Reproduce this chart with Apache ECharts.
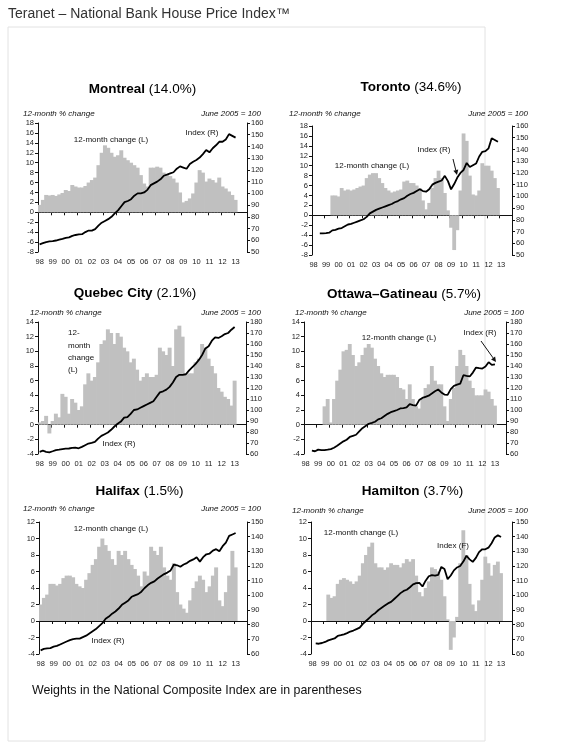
<!DOCTYPE html>
<html><head><meta charset="utf-8">
<script src="https://cdn.jsdelivr.net/npm/echarts@6/dist/echarts.min.js"></script>
<style>html,body{margin:0;padding:0;background:#fff;}#c{width:579px;height:743px;}</style>
</head><body><div id="c"></div>
<script>
// ---- tick labels / categories (quarters 1998Q1 .. 2013Q4) ----
const yearLabels = ['98','99','00','01','02','03','04','05','06','07','08','09','10','11','12','13'];
const quarters = [];
yearLabels.forEach(function (y) { for (let q = 1; q <= 4; q++) quarters.push(y + 'Q' + q); });

// ---- Montreal ----
const montrealChange = [1.5,2.5,3.5,3.4, 3.5,3.3,3.6,3.9, 4.5,4.3,5.5,5.2, 5.0,5.0,5.3,6.0, 6.5,7.0,9.5,12.0,
  13.5,13.0,12.0,11.2, 11.5,12.5,11.0,10.5, 10.0,9.5,9.0,7.5, 5.8,5.2,9.0,9.0, 9.2,9.0,8.0,7.5,
  7.3,6.8,6.0,4.0, 2.0,2.3,2.8,3.8, 6.0,8.5,8.0,6.2, 6.8,6.5,6.0,7.0, 5.2,4.8,4.2,3.5, 2.5];
const montrealIndex = [56.5,57.5,58.5,59, 59.3,59.8,60.5,61.2, 62,62.5,63.8,64.5, 65,65.2,67,68.3, 68.2,69.5,72.5,75,
  76.5,78,80,83, 85.5,89,92.5,93.5, 95,98,100,100, 100.8,103,107,108.5, 110,112,115,116,
  117,118,121,123, 122,121,125,127, 128.5,130.5,133.5,137, 135,138.5,141,144, 144,146,150.5,149, 147.5];

// ---- Toronto ----
const torontoChange = [null,null,null,null, null,null,4.0,4.0, 3.8,5.5,5.0,5.2, 5.0,5.2,5.5,5.8, 6.0,7.5,8.2,8.5,
  8.5,7.5,6.5,5.5, 5.0,4.6,4.8,5.0, 5.2,6.8,7.0,6.5, 6.5,6.0,5.5,3.0, 1.2,2.5,5.5,7.5,
  9.0,7.5,4.5,1.0, -2.5,-7.0,-3.0,5.0, 16.5,15.0,8.0,4.2, 4.0,5.0,10.5,10.0, 10.0,9.0,7.5,5.5, null];
const torontoIndex = [null,null,68.5,68.5, 68.7,69,71,71.5, 72.5,73,74.5,76, 76.5,77.5,78.5,79.5, 80.5,82.5,85.5,87,
  88.5,89.5,90.5,91.5, 92.5,93.5,95,96, 97.5,98.5,100.5,102, 103,104.5,106,104.5, 104,106,110,111.5,
  112.5,113.5,117.5,113, 106,110.5,116,120, 122.5,128.5,125,126.5, 128,134,138,138.5, 141,149.5,148,146.5, null];

// ---- Quebec City ----
const quebecChange = [0.3,0.5,1.2,-1.2, 0.5,1.5,1.0,4.2, 3.8,1.5,3.5,3.0, 2.0,2.5,5.5,7.0, 6.0,6.5,8.5,11.0,
  11.5,13.0,12.5,11.0, 12.5,12.0,10.5,10.0, 8.5,9.0,7.5,6.0, 6.5,7.0,6.5,6.5, 6.8,10.5,10.0,9.5,
  10.5,8.0,13.0,13.5, 12.0,7.0,7.0,7.0, 8.5,9.0,11.0,10.5, 9.0,8.0,7.0,5.0, 4.5,3.8,3.5,2.6, 6.0];
const quebecIndex = [62,63,62,61.5, 62.5,63.6,64,64.5, 64.8,65,65.5,65.7, 65.2,66.5,68,69.5, 70.2,71,74,76.5,
  78,79.5,82,85, 87.5,89.5,93,93.5, 96.5,100,100.5,102, 103.5,105,106.5,108, 112,116,117,118.5,
  121,125,130,132, 132,132.5,136,139, 142,145.5,150,156, 158,163,166,165.5, 167,169,170,173, 175.5];

// ---- Ottawa–Gatineau ----
const ottawaChange = [null,null,null,null, null,null,2.5,3.5, 0.3,3.5,6.0,7.5, 10.0,10.2,11.0,9.5, 8.0,8.5,9.5,10.5,
  11.0,10.5,9.0,8.0, 7.0,6.5,6.8,6.8, 6.8,6.5,5.0,4.8, 3.5,5.5,3.5,2.5, 2.2,3.5,5.0,5.5,
  8.0,6.0,5.5,5.5, 2.5,0.5,3.5,5.0, 8.0,10.2,9.5,8.0, 6.0,5.0,4.0,4.0, 4.0,4.8,4.5,3.5, 2.6];
const ottawaIndex = [null,null,63,62.5, 64,63.5,63.6,64, 64.5,65.7,67.5,69.5, 71.5,73,75.5,76.5, 77.5,80.5,83.5,85.5,
  87.5,88.3,89.3,91.5, 92.5,94.5,96.5,98, 99,100,101.4,101.8, 102.3,105.3,104.5,104, 109,111,112,113,
  115,117,118.6,116, 114,113.8,119,122, 123,124,131.6,131, 130.5,134,138.6,138, 137.7,139.5,143.5,141, 141.5];

// ---- Halifax ----
const halifaxChange = [2.0,2.8,3.2,4.5, 4.5,4.3,4.5,5.2, 5.5,5.5,5.3,4.5, 4.2,4.0,5.0,5.8, 6.8,7.5,9.0,10.0,
  9.2,8.5,7.5,6.8, 8.5,8.0,8.5,7.5, 6.8,6.3,5.5,4.2, 6.0,5.5,9.0,8.5, 8.0,9.0,6.5,5.5,
  5.0,7.0,3.5,2.0, 1.5,1.0,2.5,4.0, 4.8,5.5,5.0,3.5, 4.2,5.5,6.5,2.5, 1.8,3.5,5.5,8.5, 6.5];
const halifaxIndex = [62.5,63.5,63.8,64, 65,65.5,66.5,67.5, 68.5,69.5,70.2,70.5, 70.5,71.5,72.5,74, 75.5,77,79,81,
  84,85.5,87.5,89, 91,93.5,95,96.5, 99,100,100.8,102.5, 105,107,108.5,109.5, 111.5,113,114.5,115.5,
  117,121,120.5,119.5, 121,122,123.5,124.5, 126,123,126,128, 128.5,130.5,131.5,130, 133.5,136,140.5,141.5, 142.5];

// ---- Hamilton ----
const hamiltonChange = [null,null,null,null, null,3.2,2.8,3.0, 4.5,5.0,5.2,5.0, 4.8,4.5,4.8,5.5, 7.0,8.0,9.0,9.5,
  7.0,6.5,6.5,6.2, 6.5,7.0,6.8,6.8, 6.5,7.0,7.5,7.2, 7.5,5.5,3.5,3.0, 4.0,4.8,6.5,6.3,
  6.0,5.0,3.0,0.2, -3.5,-2.0,0.5,7.0, 11.0,8.0,4.5,2.0, 1.2,2.5,5.0,7.8, 7.0,5.5,6.8,7.2, 5.8];
const hamiltonIndex = [null,67.2,67,67.5, 68.2,69.3,70,70.6, 72.3,72.8,73.4,74.2, 75.3,76,77,78, 80.5,82.5,84.5,86.5,
  88,90,91.5,93, 94.5,95.5,97.5,99.5, 101.5,103,103.8,105.5, 107.5,108.3,108.5,106, 110,113,113.8,113.5,
  114,119.4,118,111, 113.5,117,119,120, 123,127,124.5,122.8, 125.5,129.5,131.4,131.4, 132.5,135.5,139.5,141, 139.8];

// ---- panel titles / weights ----
const cityNames = ['Montreal','Toronto','Quebec City','Ottawa\u2013Gatineau','Halifax','Hamilton'];
const cityWeights = ['(14.0%)','(34.6%)','(2.1%)','(5.7%)','(1.5%)','(3.7%)'];

const FONT = '"Liberation Sans", Arial, Helvetica, sans-serif';
const panels = [
  {change: montrealChange, index: montrealIndex, grid:{left:38, top:123, width:209, height:129}, l:[-8,18], r:[50,160],
   tx:142.5, ty:89, subL:[23,114], subR:[261,114]},
  {change: torontoChange, index: torontoIndex, grid:{left:312, top:126, width:200, height:129}, l:[-8,18], r:[50,160],
   tx:411, ty:87, subL:[289,114], subR:[528,114]},
  {change: quebecChange, index: quebecIndex, grid:{left:38, top:322, width:208, height:132}, l:[-4,14], r:[60,180],
   tx:135, ty:293, subL:[30,313], subR:[261,313]},
  {change: ottawaChange, index: ottawaIndex, grid:{left:304, top:322, width:202, height:132}, l:[-4,14], r:[60,180],
   tx:404, ty:294.5, subL:[295,313], subR:[524,313]},
  {change: halifaxChange, index: halifaxIndex, grid:{left:39, top:522, width:208, height:132}, l:[-4,12], r:[60,150],
   tx:139.5, ty:491, subL:[23,509], subR:[261,509]},
  {change: hamiltonChange, index: hamiltonIndex, grid:{left:311, top:522, width:201, height:132}, l:[-4,12], r:[60,150],
   tx:412.5, ty:491, subL:[292,511], subR:[528,511]}
];

const grid = [], xAxis = [], yAxis = [], series = [], graphic = [];
const tickLbl = {fontSize:7.5, color:'#222', fontFamily:FONT};
panels.forEach(function (p, i) {
  grid.push(Object.assign({containLabel:false}, p.grid));
  xAxis.push({gridIndex:i, type:'category', data:quarters, position:'bottom', boundaryGap:true,
    axisLine:{show:false, onZero:false}, axisTick:{show:false}, splitLine:{show:false},
    axisLabel:Object.assign({interval:3, margin:6, formatter:function (v) { return v.slice(0,2); }}, tickLbl)});
  xAxis.push({gridIndex:i, type:'category', data:quarters, position:'bottom', boundaryGap:true,
    axisLine:{show:true, onZero:true, lineStyle:{color:'#111', width:1}},
    axisTick:{show:true, interval:3, length:3, lineStyle:{color:'#111'}},
    axisLabel:{show:false}, splitLine:{show:false}});
  yAxis.push({gridIndex:i, type:'value', position:'left', min:p.l[0], max:p.l[1], interval:2,
    axisLine:{show:true, onZero:false, lineStyle:{color:'#111'}}, axisTick:{show:true, length:3, lineStyle:{color:'#111'}},
    splitLine:{show:false}, axisLabel:Object.assign({margin:4}, tickLbl)});
  yAxis.push({gridIndex:i, type:'value', position:'right', min:p.r[0], max:p.r[1], interval:10,
    axisLine:{show:true, onZero:false, lineStyle:{color:'#111'}}, axisTick:{show:true, length:3, lineStyle:{color:'#111'}},
    splitLine:{show:false}, axisLabel:Object.assign({margin:4}, tickLbl)});
  series.push({type:'bar', name:'12-month change', xAxisIndex:2*i, yAxisIndex:2*i, data:p.change,
    barWidth: p.grid.width / quarters.length + 0.7, barGap:'-100%', itemStyle:{color:'#c0c0c0'}, z:2});
  series.push({type:'line', name:'Index', xAxisIndex:2*i, yAxisIndex:2*i+1, data:p.index,
    symbol:'none', showSymbol:false, lineStyle:{color:'#000', width:1.8}, z:4});

  graphic.push({type:'text', z:100, style:{text:'{b|' + cityNames[i] + '} ' + cityWeights[i],
    x:p.tx, y:p.ty, fill:'#000', fontSize:13.5, fontFamily:FONT,
    align:'center', textAlign:'center', verticalAlign:'middle', textVerticalAlign:'middle',
    rich:{b:{fontWeight:'bold', fontSize:13.5, fontFamily:FONT, fill:'#000'}}}});
  graphic.push({type:'text', z:100, style:{text:'12-month % change', x:p.subL[0], y:p.subL[1], fill:'#111',
    font:'italic 8px ' + FONT, align:'left', textAlign:'left', verticalAlign:'middle', textVerticalAlign:'middle'}});
  graphic.push({type:'text', z:100, style:{text:'June 2005 = 100', x:p.subR[0], y:p.subR[1], fill:'#111',
    font:'italic 8px ' + FONT, align:'right', textAlign:'right', verticalAlign:'middle', textVerticalAlign:'middle'}});
});

function note(text, x, y, align) {
  graphic.push({type:'text', z:100, style:{text:text, x:x, y:y, fill:'#111', font:'8px ' + FONT,
    align:align || 'center', textAlign:align || 'center', verticalAlign:'middle', textVerticalAlign:'middle'}});
}
function arrow(x1, y1, x2, y2) {
  const a = Math.atan2(y2 - y1, x2 - x1), L = 5, W = 2.5;
  const bx = x2 - L * Math.cos(a), by = y2 - L * Math.sin(a);
  graphic.push({type:'line', z:100, shape:{x1:x1, y1:y1, x2:bx, y2:by}, style:{stroke:'#111', lineWidth:1}});
  graphic.push({type:'polygon', z:100, shape:{points:[[x2,y2],[bx - W*Math.sin(a), by + W*Math.cos(a)],[bx + W*Math.sin(a), by - W*Math.cos(a)]]},
    style:{fill:'#111'}});
}
// annotations
note('12-month change (L)', 111, 140); note('Index (R)', 202, 133);
note('12-month change (L)', 372, 166); note('Index (R)', 434, 150); arrow(453, 159, 457, 175);
note('12-', 68, 333, 'left'); note('month', 68, 345.5, 'left'); note('change', 68, 357.5, 'left'); note('(L)', 68, 369.5, 'left');
note('Index (R)', 119, 444);
note('12-month change (L)', 399, 338); note('Index (R)', 480, 333); arrow(481, 341, 496, 362);
note('12-month change (L)', 111, 529); note('Index (R)', 108, 641);
note('12-month change (L)', 361, 533); note('Index (F)', 453, 546);

// frame, page title and footer
graphic.push({type:'rect', z:-1, shape:{x:8, y:27, width:477, height:714}, style:{fill:'none', stroke:'#e2e2e2', lineWidth:1}});
graphic.push({type:'text', z:100, style:{text:'Teranet \u2013 National Bank House Price Index\u2122', x:8, y:14, fill:'#333',
  font:'14px ' + FONT, align:'left', textAlign:'left', verticalAlign:'middle', textVerticalAlign:'middle'}});
graphic.push({type:'text', z:100, style:{text:'Weights in the National Composite Index are in parentheses', x:32, y:691, fill:'#111',
  font:'12.4px ' + FONT, align:'left', textAlign:'left', verticalAlign:'middle', textVerticalAlign:'middle'}});

const chart = echarts.init(document.getElementById('c'));
chart.setOption({
  animation:false,
  backgroundColor:'#fff',
  textStyle:{fontFamily:FONT},
  grid:grid, xAxis:xAxis, yAxis:yAxis, series:series, graphic:graphic
});
</script>
</body></html>
